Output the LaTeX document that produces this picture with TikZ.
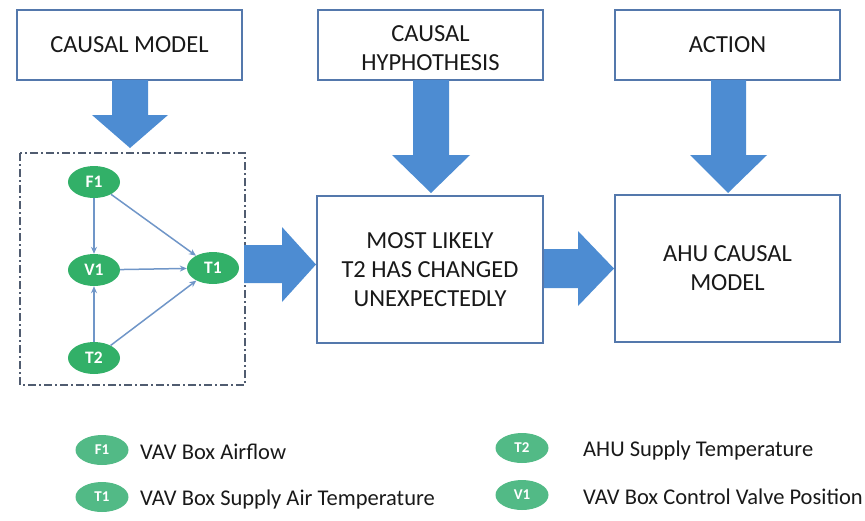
\documentclass[tikz,border=0pt]{standalone}
\usepackage{fontspec}
\setmainfont{Carlito}
\usetikzlibrary{arrows.meta,shapes.geometric}

\definecolor{boxline}{RGB}{84,120,172}
\definecolor{arrowfill}{RGB}{77,140,210}
\definecolor{nodegreen}{RGB}{50,176,104}
\definecolor{keygreen}{RGB}{82,186,134}
\definecolor{edgeblue}{RGB}{112,150,200}
\definecolor{frameline}{RGB}{80,92,112}
\definecolor{inktext}{RGB}{25,25,25}

\tikzset{
  stagebox/.style={draw=boxline, line width=1.8pt, fill=white, align=center,
    text=inktext, font=\fontsize{24.5}{29}\selectfont, inner sep=0pt},
  stagetext/.style={align=center, text=inktext, inner sep=0pt,
    font=\fontsize{24.5}{29.5}\selectfont},
  varnode/.style={ellipse, fill=nodegreen, text=white, minimum width=52pt,
    minimum height=32pt, inner sep=0pt, font=\fontsize{17.5}{19}\selectfont\bfseries},
  keynode/.style={ellipse, fill=keygreen, text=white, minimum width=53pt,
    minimum height=30pt, inner sep=0pt, font=\fontsize{15}{17}\selectfont\bfseries},
  keytext/.style={anchor=west, inner sep=0pt, text=inktext,
    font=\fontsize{22.5}{26}\selectfont},
  link/.style={draw=edgeblue, line width=1.5pt, -{Stealth[length=7pt,width=6pt]}},
  blockarrow/.style={fill=arrowfill, draw=none},
  frame/.style={draw=frameline, line width=1.2pt,
    dash pattern=on 8pt off 3pt on 2pt off 3pt}
}

\begin{document}
\begin{tikzpicture}[x=1pt,y=-1pt]
\useasboundingbox (0,0) rectangle (865,520);

% top row of stage boxes
\node[stagebox, minimum width=225pt, minimum height=70pt] (cm) at (129.5,45) {CAUSAL MODEL};
\node[stagebox, minimum width=225pt, minimum height=70pt] (hyp) at (430.5,45) {};
\node[stagetext] (hyptext) at (430.5,48) {CAUSAL\\HYPHOTHESIS};
\node[stagebox, minimum width=225pt, minimum height=70pt] (act) at (727.5,45) {ACTION};

% lower row of stage boxes
\node[stagebox, minimum width=226pt, minimum height=147pt] (likely) at (430,269.5)
  {MOST LIKELY\\T2 HAS CHANGED\\UNEXPECTEDLY};
\node[stagebox, minimum width=225pt, minimum height=147pt] (ahu) at (727.5,268.5)
  {AHU CAUSAL\\MODEL};

% causal graph frame
\draw[frame] (20,153) rectangle (245,385);
\node[varnode] (F1) at (94,182) {F1};
\node[varnode] (V1) at (94,270) {V1};
\node[varnode] (T1) at (213,268) {T1};
\node[varnode] (T2) at (94,358) {T2};
\draw[link] (F1) -- (V1);
\draw[link] (F1) -- (T1);
\draw[link] (V1) -- (T1);
\draw[link] (T2) -- (V1);
\draw[link] (T2) -- (T1);

% block arrows
\path[blockarrow] (112,80) -- (148,80) -- (148,115) -- (168,115) -- (130,148)
  -- (92,115) -- (112,115) -- cycle;
\path[blockarrow] (413,80) -- (449,80) -- (449,155) -- (470,155) -- (431,193)
  -- (392,155) -- (413,155) -- cycle;
\path[blockarrow] (711,80) -- (746,80) -- (746,155) -- (767,155) -- (728,193)
  -- (690,155) -- (711,155) -- cycle;
\path[blockarrow] (244,245) -- (282,245) -- (282,227) -- (316,264.5) -- (282,302)
  -- (282,283) -- (244,283) -- cycle;
\path[blockarrow] (544,249) -- (578,249) -- (578,231) -- (614,268.5) -- (578,306)
  -- (578,288) -- (544,288) -- cycle;

% legend
\node[keynode] (kF1) at (102,450) {F1};
\node[keytext] (tF1) at (140,452) {VAV Box Airflow};
\node[keynode] (kT1) at (102,497) {T1};
\node[keytext] (tT1) at (140,499) {VAV Box Supply Air Temperature};
\node[keynode] (kT2) at (522,448) {T2};
\node[keytext] (tT2) at (583,450) {AHU Supply Temperature};
\node[keynode] (kV1) at (522,495) {V1};
\node[keytext] (tV1) at (583,497) {VAV Box Control Valve Position};
\end{tikzpicture}
\end{document}
